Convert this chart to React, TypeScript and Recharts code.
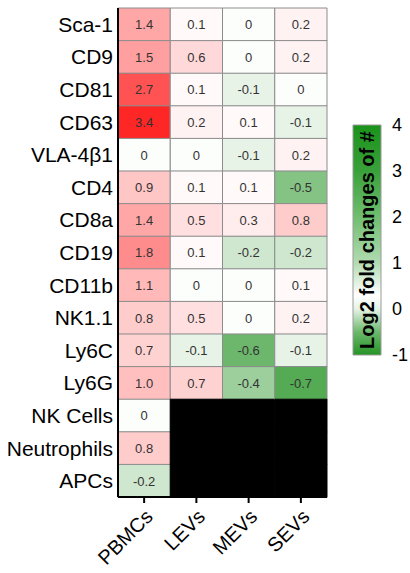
import { Bar, BarChart, Cell, LabelList, XAxis, YAxis } from "recharts";

const markers = [
  "Sca-1",
  "CD9",
  "CD81",
  "CD63",
  "VLA-4β1",
  "CD4",
  "CD8a",
  "CD19",
  "CD11b",
  "NK1.1",
  "Ly6C",
  "Ly6G",
  "NK Cells",
  "Neutrophils",
  "APCs",
];
const sampleTypes = ["PBMCs", "LEVs", "MEVs", "SEVs"];

// log2 fold changes, null = not measured (black cells)
const pbmcs = [1.4, 1.5, 2.7, 3.4, 0, 0.9, 1.4, 1.8, 1.1, 0.8, 0.7, 1.0, 0, 0.8, -0.2];
const levs = [0.1, 0.6, 0.1, 0.2, 0, 0.1, 0.5, 0.1, 0, 0.5, -0.1, 0.7, null, null, null];
const mevs = [0, 0, -0.1, 0.1, -0.1, 0.1, 0.3, -0.2, 0, 0, -0.6, -0.4, null, null, null];
const sevs = [0.2, 0.2, 0, -0.1, 0.2, -0.5, 0.8, -0.2, 0.1, 0.2, -0.1, -0.7, null, null, null];

const scaleTicks = [-1, 0, 1, 2, 3, 4];
const scaleDomain: [number, number] = [-1, 4];
const columnTicks = [0.5, 1.5, 2.5, 3.5];
const scaleTitle = "Log2 fold changes of #";

const seriesKeys = ["pbmcs", "levs", "mevs", "sevs"] as const;
const series = { pbmcs, levs, mevs, sevs };

const rows = markers.map((name, i) => ({
  name,
  pbmcs: pbmcs[i],
  levs: levs[i],
  mevs: mevs[i],
  sevs: sevs[i],
  span: 1,
}));

const FONT = "'Liberation Sans', Arial, sans-serif";
const frameLine = { stroke: "#000", strokeWidth: 2 };

function heatColor(v: number | null) {
  if (v === null) return "#000000";
  if (v === 0) return "#fcfefc";
  if (v > 0) {
    const t = Math.min(v / 4, 1);
    const c = Math.round(255 - 255 * t);
    return `rgb(255,${c},${c})`;
  }
  const t = Math.min(-v, 1);
  const rb = Math.round(255 - 245 * t);
  const g = Math.round(255 - 120 * t);
  return `rgb(${rb},${g},${rb})`;
}

const fmtValue = (v: unknown) => {
  if (v === null || v === undefined) return "";
  const n = Number(v);
  return n === 0 ? "0" : n.toFixed(1);
};

// rotated title drawn in the middle of the colour bar
function ScaleTitle(props: any) {
  const { x, y, width, height } = props;
  const cx = Number(x) + Number(width) / 2;
  const cy = Number(y) + Number(height) / 2;
  return (
    <text
      x={cx}
      y={cy}
      transform={`rotate(-90, ${cx}, ${cy})`}
      textAnchor="middle"
      dominantBaseline="central"
      fontFamily={FONT}
      fontWeight="bold"
      fontSize={20}
      fill="#000"
    >
      {scaleTitle}
    </text>
  );
}

export default function App() {
  return (
    <div style={{ position: "absolute", left: 0, top: 0, width: 410, height: 573, background: "#fff", fontFamily: FONT }}>
      <div style={{ position: "absolute", left: 0, top: 0 }}>
        <BarChart
          width={340}
          height={573}
          data={rows}
          layout="vertical"
          margin={{ top: 8, right: 13, bottom: 0, left: 0 }}
          barCategoryGap={0}
        >
          {seriesKeys.map((key) => (
            <Bar key={key} dataKey="span" stackId="cells" isAnimationActive={false}>
              {series[key].map((v, i) => (
                <Cell key={i} fill={heatColor(v)} stroke={v === null ? "#000" : "#8c8c8c"} strokeWidth={1} />
              ))}
              <LabelList
                dataKey={key}
                position="center"
                formatter={fmtValue}
                style={{ fontSize: 13, fill: "#333", fontFamily: FONT }}
              />
            </Bar>
          ))}
          <XAxis
            type="number"
            domain={[0, 4]}
            ticks={columnTicks}
            tickFormatter={(v) => sampleTypes[Math.floor(v)]}
            axisLine={frameLine}
            tickLine={frameLine}
            tickSize={6}
            tickMargin={5}
            height={76}
            angle={-45}
            textAnchor="end"
            interval={0}
            tick={{ fontSize: 20, fill: "#000", fontFamily: FONT }}
          />
          <XAxis
            xAxisId="top"
            orientation="top"
            type="number"
            domain={[0, 4]}
            height={0}
            tick={false}
            tickLine={false}
            axisLine={frameLine}
          />
          <YAxis
            type="category"
            dataKey="name"
            width={118}
            axisLine={frameLine}
            tickLine={false}
            tickSize={0}
            tickMargin={5}
            interval={0}
            tick={{ fontSize: 21, fill: "#000", fontFamily: FONT }}
          />
          <YAxis
            yAxisId="right"
            orientation="right"
            type="category"
            dataKey="name"
            width={0}
            tick={false}
            tickLine={false}
            axisLine={frameLine}
          />
        </BarChart>
      </div>
      <div style={{ position: "absolute", left: 345, top: 115 }}>
        <BarChart
          width={65}
          height={250}
          data={[{ name: "scale", range: scaleDomain }]}
          margin={{ top: 10, right: 0, bottom: 10, left: 8 }}
          barCategoryGap={0}
        >
          <defs>
            <linearGradient id="scaleFill" x1="0" y1="0" x2="0" y2="1">
              <stop offset="0%" stopColor="#1a931a" />
              <stop offset="20%" stopColor="#3aa13a" />
              <stop offset="40%" stopColor="#70be70" />
              <stop offset="60%" stopColor="#b2dbb2" />
              <stop offset="74%" stopColor="#ffffff" />
              <stop offset="80%" stopColor="#e6f3e6" />
              <stop offset="90%" stopColor="#6cb86c" />
              <stop offset="100%" stopColor="#259425" />
            </linearGradient>
          </defs>
          <XAxis dataKey="name" hide />
          <YAxis
            type="number"
            domain={scaleDomain}
            ticks={scaleTicks}
            orientation="right"
            width={29}
            axisLine={false}
            tickLine={false}
            tickSize={0}
            tickMargin={11}
            interval={0}
            tick={{ fontSize: 18, fill: "#000", fontFamily: FONT }}
          />
          <Bar dataKey="range" fill="url(#scaleFill)" stroke="#9a9a9a" isAnimationActive={false}>
            <LabelList dataKey="name" content={ScaleTitle} />
          </Bar>
        </BarChart>
      </div>
    </div>
  );
}
